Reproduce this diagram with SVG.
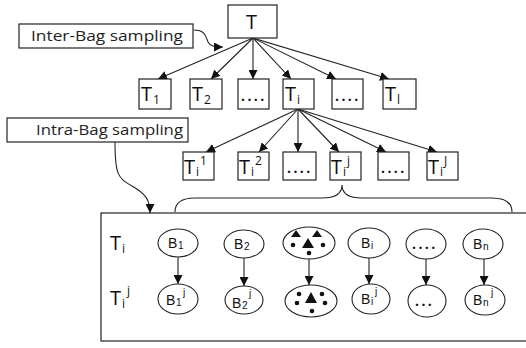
<svg xmlns="http://www.w3.org/2000/svg" width="526" height="348" viewBox="0 0 526 348">
<style>
.box{fill:#fff;stroke:#222;stroke-width:1.2}
.frame{fill:none;stroke:#222;stroke-width:1.2}
.ell{fill:#fff;stroke:#222;stroke-width:1.1}
.ln{fill:none;stroke:#222;stroke-width:1.1}
.lbl{font-family:"Open Sans","Liberation Sans",sans-serif;font-size:15px;fill:#222}
.t{font-family:"Open Sans","Liberation Sans",sans-serif;font-size:20px;fill:#111}
.ts{font-family:"Open Sans","Liberation Sans",sans-serif;font-size:12px;fill:#111}
.dots{font-family:"Open Sans","Liberation Sans",sans-serif;font-size:14px;font-weight:bold;letter-spacing:2.4px;fill:#111}
.b{font-family:"Liberation Sans",Arial,sans-serif;font-size:14px;fill:#111}
.bs{font-family:"Liberation Sans",Arial,sans-serif;font-size:10px;fill:#111}
.sh{fill:#111}
</style>
<defs>
<marker id="ah" viewBox="0 0 10 10" refX="10" refY="5" markerWidth="9" markerHeight="9" markerUnits="userSpaceOnUse" orient="auto">
<path d="M0,0 L10,5 L0,10 Z" fill="#111"/>
</marker>
</defs>
<g id="bag">
<rect class="frame" x="101" y="213" width="440" height="128"/>
<text class="t" x="110" y="250">T</text><text class="ts" x="122" y="253">i</text>
<text class="t" x="110" y="305">T</text><text class="ts" x="122" y="308">i</text><text class="ts" x="127" y="295">j</text>
</g>
<g id="connectors">
<path class="ln" marker-end="url(#ah)" d="M253,38 L158,79"/>
<path class="ln" marker-end="url(#ah)" d="M253,38 L211,79"/>
<path class="ln" marker-end="url(#ah)" d="M253,38 L253,79"/>
<path class="ln" marker-end="url(#ah)" d="M253,38 L291,79"/>
<path class="ln" marker-end="url(#ah)" d="M253,38 L336,79"/>
<path class="ln" marker-end="url(#ah)" d="M253,38 L389,79"/>
<path class="ln" marker-end="url(#ah)" d="M298,109 L206,152"/>
<path class="ln" marker-end="url(#ah)" d="M298,109 L259,152"/>
<path class="ln" marker-end="url(#ah)" d="M298,109 L298,152"/>
<path class="ln" marker-end="url(#ah)" d="M298,109 L339,152"/>
<path class="ln" marker-end="url(#ah)" d="M298,109 L386,152"/>
<path class="ln" marker-end="url(#ah)" d="M298,109 L437,152"/>
<path class="ln" marker-end="url(#ah)" d="M194,30 C206,30 206,38 208,42 C210,46 214,47 223,47"/>
<path class="ln" marker-end="url(#ah)" d="M115,142 C115,175 118,178 132,186 C146,194 150,200 150,213"/>
<path class="ln" d="M175,212 Q175,198 195,198 L322,198 Q342,198 342,185 Q342,198 362,198 L492,198 Q512,198 512,212"/>
<path class="ln" marker-end="url(#ah)" d="M178,257 L178,284"/>
<path class="ln" marker-end="url(#ah)" d="M244,258 L244,286"/>
<path class="ln" marker-end="url(#ah)" d="M309,259 L309,285"/>
<path class="ln" marker-end="url(#ah)" d="M369,258 L369,284"/>
<path class="ln" marker-end="url(#ah)" d="M426,259 L426,285"/>
<path class="ln" marker-end="url(#ah)" d="M484,259 L484,285"/>
</g>
<g id="inter"><rect class="box" x="19" y="24" width="174" height="24"/><text class="lbl" x="31" y="41" textLength="152" lengthAdjust="spacingAndGlyphs">Inter-Bag sampling</text></g>
<g id="intra"><rect class="box" x="7" y="118" width="181" height="24"/><text class="lbl" x="36" y="135" textLength="147" lengthAdjust="spacingAndGlyphs">Intra-Bag sampling</text></g>
<g id="T"><rect class="box" x="228" y="5" width="49" height="33"/><text class="t" x="246" y="29">T</text></g>
<g id="T1"><rect class="box" x="139" y="79" width="32" height="30"/><text class="t" x="141" y="101">T</text><text class="ts" x="153" y="104">1</text></g>
<g id="T2"><rect class="box" x="190" y="79" width="32" height="30"/><text class="t" x="192" y="101">T</text><text class="ts" x="204" y="104">2</text></g>
<g id="Tdots1"><rect class="box" x="238" y="79" width="31" height="30"/><text class="dots" x="241" y="101">....</text></g>
<g id="Ti"><rect class="box" x="283" y="79" width="31" height="30"/><text class="t" x="285" y="101">T</text><text class="ts" x="297" y="104">i</text></g>
<g id="Tdots2"><rect class="box" x="332" y="79" width="31" height="30"/><text class="dots" x="335" y="101">....</text></g>
<g id="Tl"><rect class="box" x="383" y="79" width="33" height="30"/><text class="t" x="385" y="101">T</text><text class="ts" x="397" y="104">l</text></g>
<g id="Ti1"><rect class="box" x="183" y="152" width="31" height="28"/><text class="t" x="184" y="174">T</text><text class="ts" x="196" y="176">i</text><text class="ts" x="200" y="165">1</text></g>
<g id="Ti2"><rect class="box" x="238" y="152" width="31" height="28"/><text class="t" x="239" y="174">T</text><text class="ts" x="251" y="176">i</text><text class="ts" x="255" y="165">2</text></g>
<g id="Tdots3"><rect class="box" x="283" y="152" width="33" height="28"/><text class="dots" x="287" y="173">....</text></g>
<g id="Tij"><rect class="box" x="330" y="152" width="31" height="28"/><text class="t" x="331" y="174">T</text><text class="ts" x="343" y="176">i</text><text class="ts" x="347" y="165">j</text></g>
<g id="Tdots4"><rect class="box" x="378" y="152" width="31" height="28"/><text class="dots" x="381" y="173">....</text></g>
<g id="TiJ"><rect class="box" x="427" y="152" width="31" height="28"/><text class="t" x="428" y="174">T</text><text class="ts" x="440" y="176">i</text><text class="ts" x="444" y="165">J</text></g>
<g id="B1"><ellipse class="ell" cx="178" cy="243" rx="20" ry="14"/><text class="b" x="168" y="248">B</text><text class="bs" x="178" y="249">1</text></g>
<g id="B2"><ellipse class="ell" cx="244" cy="244" rx="20" ry="14"/><text class="b" x="234" y="249">B</text><text class="bs" x="244" y="250">2</text></g>
<g id="Bshapes"><ellipse class="ell" cx="309" cy="243" rx="26" ry="16"/>
<path class="sh" d="M296,230 L301,237 L291,237 Z M317,230 L322,237 L312,237 Z M308,238 L314,248 L302,248 Z"/>
<circle class="sh" cx="293" cy="245" r="2.3"/><circle class="sh" cx="323" cy="245" r="2.3"/><circle class="sh" cx="309" cy="253" r="2.3"/>
</g>
<g id="Bi"><ellipse class="ell" cx="369" cy="243" rx="21" ry="15"/><text class="b" x="361" y="248">B</text><text class="bs" x="371" y="249">i</text></g>
<g id="Bdots"><ellipse class="ell" cx="426" cy="244" rx="20" ry="15"/><text class="dots" x="412" y="249">....</text></g>
<g id="Bn"><ellipse class="ell" cx="483" cy="244" rx="20" ry="15"/><text class="b" x="473" y="249">B</text><text class="bs" x="483" y="250">n</text></g>
<g id="B1j"><ellipse class="ell" cx="178" cy="299" rx="20" ry="15"/><text class="b" x="166" y="305">B</text><text class="bs" x="176" y="306">1</text><text class="bs" x="183" y="296">j</text></g>
<g id="B2j"><ellipse class="ell" cx="244" cy="300" rx="19" ry="14"/><text class="b" x="232" y="308">B</text><text class="bs" x="242" y="309">2</text><text class="bs" x="249" y="297">j</text></g>
<g id="Bshapesj"><ellipse class="ell" cx="311" cy="301" rx="26" ry="16"/>
<path class="sh" d="M311,292 L317,303 L305,303 Z"/>
<circle class="sh" cx="299" cy="294" r="2.3"/><circle class="sh" cx="322" cy="294" r="2.3"/><circle class="sh" cx="297" cy="303" r="2.3"/><circle class="sh" cx="325" cy="303" r="2.3"/><circle class="sh" cx="312" cy="311" r="2.3"/>
</g>
<g id="Bij"><ellipse class="ell" cx="371" cy="299" rx="19" ry="15"/><text class="b" x="361" y="304">B</text><text class="bs" x="371" y="305">i</text><text class="bs" x="375" y="295">j</text></g>
<g id="Bdotsj"><ellipse class="ell" cx="427" cy="301" rx="19" ry="16"/><text class="dots" x="415" y="306">...</text></g>
<g id="Bnj"><ellipse class="ell" cx="485" cy="300" rx="20" ry="15"/><text class="b" x="473" y="305">B</text><text class="bs" x="483" y="306">n</text><text class="bs" x="491" y="296">j</text></g>
</svg>
